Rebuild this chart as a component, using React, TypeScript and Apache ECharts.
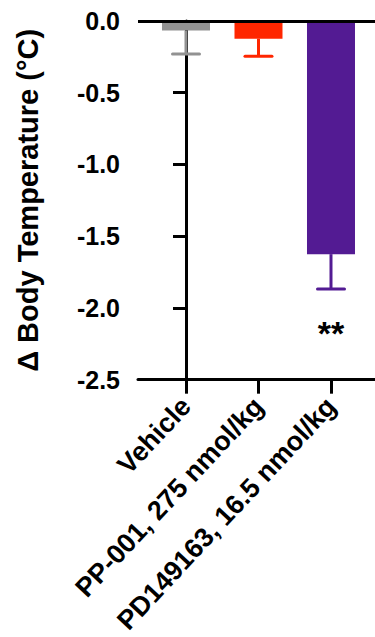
import React, { useEffect, useRef } from "react";
import * as echarts from "echarts";

const categories = ["Vehicle", "PP-001, 275 nmol/kg", "PD149163, 16.5 nmol/kg"];
const means = [-0.067, -0.123, -1.625];
const errors = [0.163, 0.122, 0.243];
const colors = ["#929292", "#FF2600", "#531B93"];
const significance = ["", "", "**"];
const positions = [0, 1, 2];
const yName = "\u0394 Body Temperature (\u00B0C)";

const FONT = "'Liberation Sans', Arial, Helvetica, sans-serif";

export default function App() {
  const ref = useRef<HTMLDivElement>(null);
  useEffect(() => {
    if (!ref.current) return;
    const chart = echarts.init(ref.current, undefined, { renderer: "svg" });
    chart.setOption({
      animation: false,
      grid: { left: 138, right: 0, top: 21, bottom: 256, containLabel: false },
      xAxis: {
        type: "value",
        min: -0.662,
        max: 2.607,
        position: "bottom",
        splitLine: { show: false },
        axisLine: { show: true, onZero: false, lineStyle: { color: "#000", width: 3 } },
        axisTick: { show: true, customValues: positions, length: 14, lineStyle: { color: "#000", width: 3 } },
        axisLabel: {
          customValues: positions,
          rotate: 47,
          margin: 22,
          formatter: (v: number) => categories[Math.round(v)] ?? "",
          color: "#000",
          fontWeight: "bold",
          fontSize: 27,
          fontFamily: FONT,
        },
      },
      yAxis: {
        type: "value",
        min: -2.5,
        max: 0,
        interval: 0.5,
        name: yName,
        nameLocation: "middle",
        nameGap: 96,
        nameTextStyle: { color: "#000", fontWeight: "bold", fontSize: 29, fontFamily: FONT },
        splitLine: { show: false },
        axisLine: { show: true, lineStyle: { color: "#000", width: 3 } },
        axisTick: { show: true, length: 13, lineStyle: { color: "#000", width: 3 } },
        axisLabel: {
          margin: 18,
          formatter: (v: number) => v.toFixed(1),
          color: "#000",
          fontWeight: "bold",
          fontSize: 25,
          fontFamily: FONT,
        },
      },
      series: [
        {
          type: "bar",
          barWidth: 48,
          data: positions.map((p, i) => ({
            value: [p, means[i]],
            itemStyle: { color: colors[i] },
          })),
          markLine: {
            silent: true,
            symbol: "none",
            label: { show: false },
            lineStyle: { color: "#000", width: 3, type: "solid" },
            data: [{ yAxis: 0 }],
          },
          z: 2,
        },
        {
          type: "custom",
          z: 3,
          data: positions.map((p, i) => [p, means[i], means[i] - errors[i]]),
          renderItem: (params: any, api: any) => {
            const i = params.dataIndex;
            const x = api.value(0);
            const top = api.coord([x, api.value(1)]);
            const bot = api.coord([x, api.value(2)]);
            const c = colors[i];
            return {
              type: "group",
              children: [
                {
                  type: "line",
                  shape: { x1: top[0], y1: top[1], x2: bot[0], y2: bot[1] },
                  style: { stroke: c, lineWidth: 3 },
                },
                {
                  type: "line",
                  shape: { x1: bot[0] - 13.5, y1: bot[1], x2: bot[0] + 13.5, y2: bot[1] },
                  style: { stroke: c, lineWidth: 3, lineCap: "round" },
                },
                {
                  type: "text",
                  x: bot[0],
                  y: bot[1] + 44,
                  style: {
                    text: significance[i],
                    fill: "#000",
                    font: `bold 34px ${FONT}`,
                    textAlign: "center",
                    textVerticalAlign: "middle",
                  },
                },
              ],
            };
          },
        },
      ],
    });
    return () => chart.dispose();
  }, []);
  return (
    <div
      ref={ref}
      style={{ position: "fixed", left: 0, top: 0, width: 375, height: 637, background: "#fff" }}
    />
  );
}
